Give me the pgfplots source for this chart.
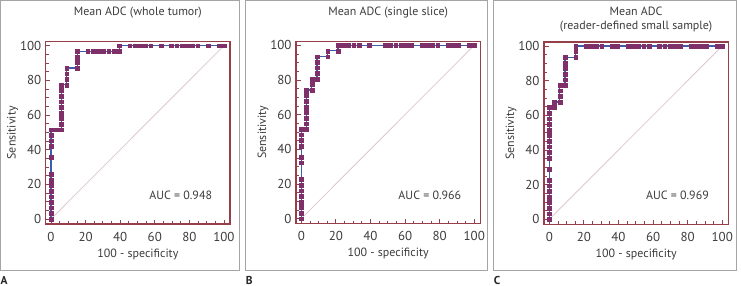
\documentclass[border=0pt]{standalone}
\usepackage{pgfplots}
\pgfplotsset{compat=1.18}
\usepackage{fontspec}
\setmainfont{PT Sans}

\definecolor{framered}{RGB}{150,62,74}
\definecolor{markpurple}{RGB}{128,48,104}
\definecolor{curveblue}{RGB}{62,92,172}
\definecolor{diag}{RGB}{220,200,206}
\definecolor{panelgray}{RGB}{165,165,165}
\definecolor{txt}{RGB}{60,60,60}

\newcommand{\lblfont}{\fontsize{12}{14}\selectfont}
\newcommand{\tickfont}{\fontsize{13}{15}\selectfont}
\newcommand{\titlefont}{\fontsize{12}{14.7}\selectfont}

\tikzset{auc/.style={font=\fontsize{12}{14}\selectfont, text=txt, anchor=center}}

\pgfplotsset{
  rocaxis/.style={
    scale only axis, width=184.3bp, height=182.3bp,
    xmin=-3.06, xmax=103.5, ymin=-2.9, ymax=102.3,
    axis line style={framered, line width=1.1pt},
    xtick={0,20,...,100}, ytick={0,20,...,100},
    minor tick num=3,
    tick align=inside, xtick pos=bottom, ytick pos=left,
    major tick length=4.5bp, minor tick length=3bp,
    every tick/.style={framered, line width=0.8pt},
    /pgf/number format/assume math mode=true,
    tick label style={font=\tickfont, text=txt},
    xticklabel style={yshift=-4.5bp},
    yticklabel style={xshift=-1bp},
    xlabel={100 - specificity}, ylabel={Sensitivity},
    label style={font=\lblfont, text=txt},
    xlabel style={at={(axis description cs:0.5,0)}, anchor=center, yshift=-30bp},
    ylabel style={at={(axis description cs:0,0.5)}, anchor=center, yshift=33bp},
    title style={font=\titlefont, text=txt, at={(axis description cs:0.5,1)}, anchor=center, align=center},
    clip=false,
  },
  roccurve/.style={curveblue, line width=1.2pt, mark=square*, mark size=1.9bp,
    mark options={fill=markpurple, draw=markpurple, line width=0.3pt}},
  diagline/.style={diag, line width=0.8pt, no marks},
}

\begin{document}
\begin{tikzpicture}
\useasboundingbox (0,0) rectangle (741bp,-286bp);

% panel frames
\draw[panelgray, line width=0.9pt] (0.5bp,-0.5bp) rectangle (239.7bp,-270.7bp);
\draw[panelgray, line width=0.9pt] (245.7bp,-0.5bp) rectangle (487.7bp,-270.7bp);
\draw[panelgray, line width=0.9pt] (493.7bp,-0.5bp) rectangle (736.7bp,-270.7bp);

% panel letters
\node[font=\fontsize{11.5}{13}\selectfont\bfseries, text=black!85, anchor=west, inner sep=0pt] at (0.5bp,-280bp) {A};
\node[font=\fontsize{11.5}{13}\selectfont\bfseries, text=black!85, anchor=west, inner sep=0pt] at (245.7bp,-280bp) {B};
\node[font=\fontsize{11.5}{13}\selectfont\bfseries, text=black!85, anchor=west, inner sep=0pt] at (493.7bp,-280bp) {C};

% A: whole tumor
\begin{axis}[rocaxis, at={(45.7bp,-224bp)}, anchor=south west,
  title={Mean ADC (whole tumor)}, title style={yshift=23bp}]
\addplot[diagline] coordinates {(0,0)(100,100)};
\addplot[roccurve] coordinates {
(0,0)(0,3.2)(0,6.5)(0,9.7)(0,12.9)(0,16.1)(0,19.4)(0,22.6)(0,25.8)(0,35.5)
(0,41.9)(0,45.2)(0,48.4)(0,51.6)(3.0,51.6)(6.1,51.6)(6.1,54.8)(6.1,58.1)
(6.1,61.3)(6.1,64.5)(6.1,67.7)(6.1,71.0)(6.1,74.2)(6.1,77.4)(9.1,77.4)
(9.1,80.6)(9.1,83.9)(9.1,87.1)(15.2,87.1)(15.2,90.3)(15.2,93.5)(15.2,96.8)
(21.2,96.8)(24.2,96.8)(27.3,96.8)(30.3,96.8)(33.3,96.8)(36.4,96.8)(39.4,96.8)
(39.4,100)(45.5,100)(48.5,100)(51.5,100)(54.5,100)(57.6,100)(63.6,100)
(69.7,100)(72.7,100)(75.8,100)(78.8,100)(81.8,100)(84.8,100)(90.9,100)
(97.0,100)(100,100)};
\node[auc] at (axis cs:75,13.4) {AUC = 0.948};
\end{axis}

% B: single slice
\begin{axis}[rocaxis, at={(296bp,-223.6bp)}, anchor=south west,
  title={Mean ADC (single slice)}, title style={yshift=23bp}]
\addplot[diagline] coordinates {(0,0)(100,100)};
\addplot[roccurve] coordinates {
(0,0)(0,3.2)(0,6.5)(0,9.7)(0,12.9)(0,16.1)(0,19.4)(0,22.6)(0,32.3)(0,35.5)
(0,41.9)(0,45.2)(0,48.4)(0,51.6)(3.0,51.6)(3.0,54.8)(3.0,58.1)(3.0,61.3)
(3.0,64.5)(3.0,67.7)(3.0,71.0)(3.0,74.2)(6.1,74.2)(6.1,77.4)(6.1,80.6)
(9.1,80.6)(9.1,83.9)(9.1,87.1)(9.1,90.3)(9.1,93.5)(15.2,93.5)(15.2,96.8)
(21.2,96.8)(21.2,100)(24.2,100)(27.3,100)(30.3,100)(33.3,100)(39.4,100)
(48.5,100)(51.5,100)(54.5,100)(57.6,100)(60.6,100)(63.6,100)(69.7,100)
(72.7,100)(75.8,100)(78.8,100)(84.8,100)(87.9,100)(90.9,100)(97.0,100)(100,100)};
\node[auc] at (axis cs:74.3,13.5) {AUC = 0.966};
\end{axis}

% C: reader-defined small sample
\begin{axis}[rocaxis, at={(544bp,-224.3bp)}, anchor=south west,
  title={Mean ADC\\(reader-defined small sample)}, title style={yshift=16.4bp}]
\addplot[diagline] coordinates {(0,0)(100,100)};
\addplot[roccurve] coordinates {
(0,0)(0,3.2)(0,6.5)(0,9.7)(0,12.9)(0,16.1)(0,19.4)(0,22.6)(0,29.0)(0,35.5)
(0,38.7)(0,41.9)(0,45.2)(0,48.4)(0,51.6)(0,54.8)(0,58.1)(0,61.3)(0,64.5)
(3.0,64.5)(3.0,67.7)(6.1,67.7)(6.1,71.0)(6.1,74.2)(6.1,77.4)(9.1,77.4)
(9.1,80.6)(9.1,83.9)(9.1,87.1)(9.1,90.3)(9.1,93.5)(15.2,93.5)(15.2,96.8)
(15.2,100)(21.2,100)(24.2,100)(27.3,100)(30.3,100)(36.4,100)(39.4,100)
(45.5,100)(48.5,100)(51.5,100)(54.5,100)(57.6,100)(63.6,100)(66.7,100)
(69.7,100)(72.7,100)(75.8,100)(81.8,100)(84.8,100)(87.9,100)(90.9,100)
(97.0,100)(100,100)};
\node[auc] at (axis cs:74.1,13.8) {AUC = 0.969};
\end{axis}
\end{tikzpicture}
\end{document}
